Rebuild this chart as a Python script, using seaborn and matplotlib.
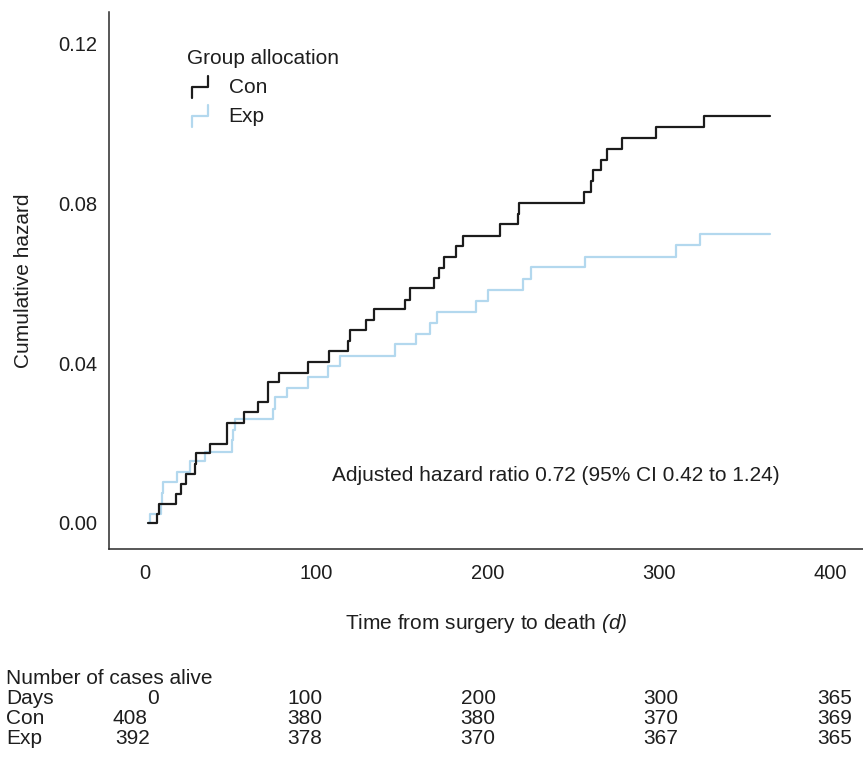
import pandas as pd
import matplotlib
matplotlib.use("Agg")
import matplotlib.pyplot as plt
import seaborn as sns
from matplotlib.legend_handler import HandlerBase
from matplotlib.lines import Line2D

# cumulative hazard (step after each time)
con_days = [1.9, 7.2, 8.2, 17.9, 20.8, 23.8, 29.2, 29.8, 37.9, 47.7,
            48.0, 58.0, 66.1, 71.6, 78.2, 95.0, 107.6, 118.7, 119.7, 128.8,
            133.9, 151.5, 154.5, 168.4, 171.6, 174.6, 181.7, 185.5, 207.4, 217.7,
            218.5, 256.1, 260.2, 261.7, 266.4, 269.5, 278.6, 298.3, 326.5, 365]
con_hazard = [0.0, 0.0023, 0.0048, 0.0073, 0.0098, 0.0123, 0.0148, 0.0174, 0.0198, 0.0223,
              0.0250, 0.0278, 0.0303, 0.0353, 0.0376, 0.0404, 0.0431, 0.0455, 0.0482, 0.0508,
              0.0535, 0.0559, 0.0589, 0.0613, 0.0638, 0.0666, 0.0694, 0.0718, 0.0748, 0.0773,
              0.0801, 0.0829, 0.0856, 0.0883, 0.0909, 0.0936, 0.0964, 0.0992, 0.1020, 0.1020]

exp_days = [1.9, 2.9, 9.6, 9.9, 10.3, 18.5, 26.3, 35.0, 51.0, 51.5,
            52.5, 74.9, 75.9, 82.7, 95.3, 107.0, 113.8, 145.9, 158.2, 166.4,
            170.6, 193.2, 200.4, 220.8, 225.3, 256.5, 310.0, 324.1, 365]
exp_hazard = [0.0, 0.0023, 0.0048, 0.0075, 0.0102, 0.0127, 0.0155, 0.0177, 0.0207, 0.0232,
              0.0259, 0.0286, 0.0314, 0.0338, 0.0365, 0.0394, 0.0419, 0.0447, 0.0474, 0.0501,
              0.0528, 0.0555, 0.0583, 0.0610, 0.0641, 0.0666, 0.0695, 0.0723, 0.0723]

# number at risk table
table_days = ["0", "100", "200", "300", "365"]
con_alive = [408, 380, 380, 370, 369]
exp_alive = [392, 378, 370, 367, 365]

x_ticks = [0, 100, 200, 300, 400]
y_ticks = [0.0, 0.04, 0.08, 0.12]

colors = {"Con": "#1c1c1c", "Exp": "#b3d8ee"}

df = pd.concat([
    pd.DataFrame({"day": exp_days, "hazard": exp_hazard, "group": "Exp"}),
    pd.DataFrame({"day": con_days, "hazard": con_hazard, "group": "Con"}),
], ignore_index=True)


class StepHandler(HandlerBase):
    # little staircase glyph for the legend
    def create_artists(self, legend, orig_handle, xdescent, ydescent, width, height, fontsize, trans):
        x0 = -xdescent + 0.22 * width
        x1 = -xdescent + width
        y0 = -ydescent
        xs = [x0, x0, x1, x1]
        ys = [y0 - 0.15 * height, y0 + 0.45 * height, y0 + 0.45 * height, y0 + 1.05 * height]
        ln = Line2D(xs, ys, color=orig_handle.get_color(), lw=orig_handle.get_linewidth())
        ln.set_transform(trans)
        return [ln]


sns.set_theme(style="white")
plt.rcParams["font.family"] = ["Liberation Sans", "DejaVu Sans"]
plt.rcParams["mathtext.fontset"] = "custom"
plt.rcParams["mathtext.rm"] = "Liberation Sans:italic"
plt.rcParams["mathtext.it"] = "Liberation Sans:italic"
txt = "#1e1e1e"
fs = 15

fig = plt.figure(figsize=(8.63, 7.6), dpi=100)
W, H = 863, 760
ax = fig.add_axes([109 / W, 1 - 549 / H, 754 / W, 537 / H])

sns.lineplot(data=df, x="day", y="hazard", hue="group", hue_order=["Exp", "Con"],
             palette=colors, estimator=None, drawstyle="steps-post",
             linewidth=1.6, legend=False, ax=ax)

ax.set_xlim(-21, 419)
ax.set_ylim(-0.00657, 0.1280)
ax.set_xticks(x_ticks)
ax.set_yticks(y_ticks)
ax.set_yticklabels([f"{v:.2f}" for v in y_ticks])
ax.tick_params(axis="both", length=0, labelsize=fs - 0.5, colors=txt)
ax.tick_params(axis="x", pad=11)
ax.tick_params(axis="y", pad=8.5)
sns.despine(ax=ax)
for s in ("left", "bottom"):
    ax.spines[s].set_color("#2a2a2a")
    ax.spines[s].set_linewidth(1.1)

ax.set_ylabel("Cumulative hazard", fontsize=fs, color=txt)
ax.yaxis.set_label_coords((24 - 109) / 754, 0.5)
ax.yaxis.label.set_verticalalignment("center")
ax.set_xlabel(r"Time from surgery to death $(d)$", fontsize=fs, color=txt)
ax.xaxis.set_label_coords(0.5, (549 - 629) / 537)
ax.xaxis.label.set_verticalalignment("baseline")

ax.text(109.2, 0.0119, "Adjusted hazard ratio 0.72 (95% CI 0.42 to 1.24)",
        fontsize=fs, color=txt, ha="left", va="center")

handles = [Line2D([], [], color=colors["Con"], lw=1.6),
           Line2D([], [], color=colors["Exp"], lw=1.6)]
leg = ax.legend(handles, ["Con", "Exp"], title="Group allocation",
                handler_map={Line2D: StepHandler()},
                loc="upper left", bbox_to_anchor=(187 / W, 1 - 49 / H),
                bbox_transform=fig.transFigure, frameon=False, fontsize=fs,
                title_fontsize=fs, alignment="left", borderpad=0, borderaxespad=0,
                handlelength=1.0, handleheight=1.0, handletextpad=1.0, labelspacing=0.42)
for t in leg.get_texts():
    t.set_color(txt)
leg.get_title().set_color(txt)

# number of cases alive table
rows_y = [684, 704, 724, 744]
fig.text(6 / W, 1 - rows_y[0] / H, "Number of cases alive", fontsize=fs, color=txt, va="baseline")
for lab, y in zip(["Days", "Con", "Exp"], rows_y[1:]):
    fig.text(6 / W, 1 - y / H, lab, fontsize=fs, color=txt, va="baseline")
col_x = [153, 305, 478, 661, 835]
for i, x in enumerate(col_x):
    x_num = x if i > 0 else 130
    fig.text(x / W, 1 - rows_y[1] / H, table_days[i], fontsize=fs, color=txt, ha="center", va="baseline")
    fig.text(x_num / W, 1 - rows_y[2] / H, str(con_alive[i]), fontsize=fs, color=txt, ha="center", va="baseline")
    fig.text((x_num + (3 if i == 0 else 0)) / W, 1 - rows_y[3] / H, str(exp_alive[i]),
             fontsize=fs, color=txt, ha="center", va="baseline")

fig.savefig("out.png", dpi=100)
